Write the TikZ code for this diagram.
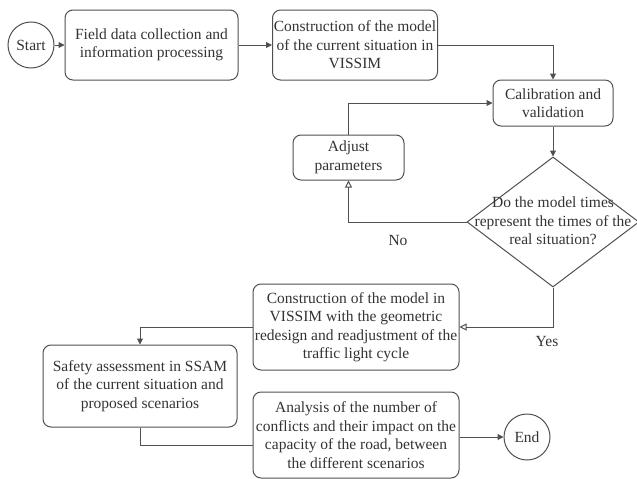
\documentclass[tikz,border=0pt]{standalone}
\usepackage{fontspec}
\setmainfont{Liberation Serif}
\usetikzlibrary{arrows.meta,shapes.geometric}
\definecolor{linec}{HTML}{505050}
\definecolor{textc}{HTML}{333333}
\begin{document}
\begin{tikzpicture}[x=1pt,y=-1pt,
  every node/.style={text=textc,font=\fontsize{15.5}{18.5}\selectfont,align=center,inner sep=0pt},
  procbox/.style={draw=linec,line width=1pt,rounded corners=8pt,rectangle},
  termcirc/.style={draw=linec,line width=1pt,circle,minimum size=46pt},
  decshape/.style={draw=linec,line width=1pt,diamond,minimum width=172pt,minimum height=130pt},
  conn/.style={draw=linec,line width=1pt},
  farrow/.style={conn,-{Triangle[length=6pt,width=6pt]}},
  oarrow/.style={conn,-{Triangle[open,length=7pt,width=7pt]}}]
\useasboundingbox (0,0) rectangle (637,479);
\node[termcirc] (start) at (31,45) {Start};
\node[procbox,minimum width=173pt,minimum height=70pt] (b1) at (151.5,45) {Field data collection and\\information processing};
\node[procbox,minimum width=165pt,minimum height=70pt] (b2) at (355,45) {Construction of the model\\of the current situation in\\VISSIM};
\node[procbox,minimum width=120pt,minimum height=46pt] (b3) at (553,103) {Calibration and\\validation};
\node[procbox,minimum width=111pt,minimum height=45pt] (adj) at (348.5,157.5) {Adjust\\parameters};
\node[decshape] (dec) at (553,222) {};
\node (dectext) at (553,221) {Do the model times\\represent the times of the\\real situation?};
\node[procbox,minimum width=206pt,minimum height=86pt] (b4) at (356,327) {Construction of the model in\\VISSIM with the geometric\\redesign and readjustment of the\\traffic light cycle};
\node[procbox,minimum width=194pt,minimum height=82pt] (b5) at (140,386) {Safety assessment in SSAM\\of the current situation and\\proposed scenarios};
\node[procbox,minimum width=206pt,minimum height=86pt] (b6) at (356,435) {Analysis of the number of\\conflicts and their impact on the\\capacity of the road, between\\the different scenarios};
\node[termcirc] (end) at (527,437) {End};
\node (nolab) at (398,240) {No};
\node (yeslab) at (547,341) {Yes};
\draw[farrow] (start) -- (b1);
\draw[farrow] (b1) -- (b2);
\draw[farrow] (b2.east) -| (b3.north);
\draw[farrow] (b3.south) -- (dec.north);
\draw[oarrow] (dec.west) -| (adj.south);
\draw[farrow] (adj.north) |- (b3.west);
\draw[oarrow] (dec.south) |- (b4.east);
\draw[farrow] (b4.west) -| (b5.north);
\draw[conn] (b5.south) |- ([yshift=-10pt]b6.west);
\draw[farrow] (b6.east |- end) -- (end);
\end{tikzpicture}
\end{document}
